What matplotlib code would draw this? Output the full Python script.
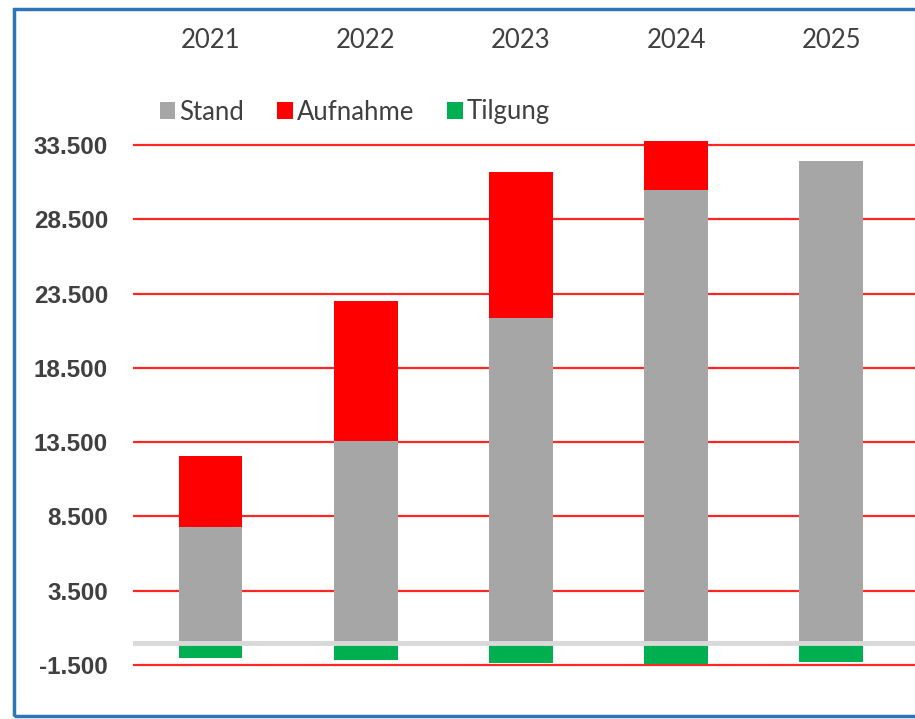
import matplotlib
matplotlib.use("Agg")
import matplotlib.pyplot as plt
from matplotlib.patches import Rectangle
from matplotlib.ticker import FuncFormatter

years = ['2021', '2022', '2023', '2024', '2025']
stand = [7800, 13600, 21850, 30500, 32400]
aufnahme = [4800, 9400, 9850, 3300, 0]
tilgung = [-1000, -1150, -1350, -1400, -1300]
yticks = [-1500, 3500, 8500, 13500, 18500, 23500, 28500, 33500]

W, H = 915, 719
fig = plt.figure(figsize=(W / 100, H / 100), dpi=100)

# axes box in pixel terms: left 133, right 915, top ~137.6, bottom ~666.5
ax = fig.add_axes([133 / W, (H - 666.5) / H, (915 - 133) / W, (666.5 - 137.6) / H])

x = list(range(len(years)))
ax.bar(x, stand, width=0.41, color='#A6A6A6', label='Stand', zorder=2)
ax.bar(x, aufnahme, width=0.41, bottom=stand, color='#FF0000', label='Aufnahme', zorder=2)
ax.bar(x, tilgung, width=0.41, color='#00B050', label='Tilgung', zorder=2)

# red gridlines plus the grey zero line
for t in yticks:
    ax.axhline(t, color='#FF0000', lw=1.6, alpha=0.85, zorder=1)
ax.axhline(0, color='#D9D9D9', lw=3.5, zorder=3)

ax.set_xlim(-0.5, 4.54)
ax.set_ylim(-1600, 34000)

ax.set_yticks(yticks)
ax.yaxis.set_major_formatter(FuncFormatter(lambda v, p: f'{v:,.0f}'.replace(',', '.')))
ax.tick_params(axis='y', length=0, pad=18, labelsize=17.5, labelcolor='#404040')
for lab in ax.get_yticklabels():
    lab.set_fontfamily(['Liberation Sans', 'DejaVu Sans'])
    lab.set_fontweight('bold')

ax.xaxis.tick_top()
ax.set_xticks(x)
ax.set_xticklabels(years, family=['Lato', 'DejaVu Sans'])
ax.tick_params(axis='x', length=0, pad=61, labelsize=18.5, labelcolor='#404040')

for s in ax.spines.values():
    s.set_visible(False)

leg = ax.legend(loc='center left', bbox_to_anchor=(147 / W, (H - 112) / H),
                bbox_transform=fig.transFigure, ncol=3, frameon=False,
                handlelength=0.6, handleheight=0.6, handletextpad=0.15,
                columnspacing=1.3, borderpad=0,
                prop={'family': ['Lato', 'DejaVu Sans'], 'size': 18.5})
for t in leg.get_texts():
    t.set_color('#404040')

# blue frame around the chart area
fig.patches.append(Rectangle((14 / W, 3 / H), 1.0, (H - 12) / H, transform=fig.transFigure,
                             fill=False, edgecolor='#2E75B6', lw=2.5, zorder=0))

fig.savefig('out.png', dpi=100)
